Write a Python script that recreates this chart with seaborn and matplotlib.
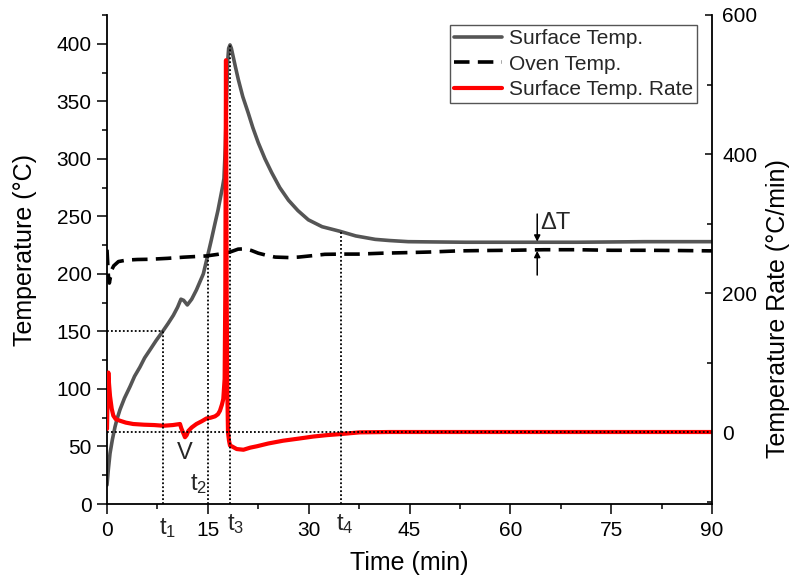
import matplotlib
matplotlib.use("Agg")
import matplotlib.pyplot as plt
from matplotlib.ticker import AutoMinorLocator, FixedLocator
import seaborn as sns

# ---- data -------------------------------------------------------------
# Surface temperature (°C) vs time (min)
surface_time = [0.0, 0.2, 0.45, 0.8, 1.19, 1.5, 1.93, 2.6, 3.42, 4.1, 4.9, 5.6,
                6.4, 7.3, 8.28, 9.1, 9.87, 10.5, 11.0, 11.4, 11.95, 12.6, 13.3,
                14.33, 14.98, 15.5, 16.07, 16.5, 16.9, 17.2, 17.4, 17.6, 17.8,
                17.95, 18.1, 18.3, 18.5, 18.8, 19.1, 19.53, 20.2, 21.0, 21.7,
                22.5, 23.5, 24.5, 25.7, 27.0, 28.4, 29.95, 32.0, 34.66, 37.0,
                39.9, 42.0, 44.8, 48.0, 53.3, 60.0, 70.0, 80.0, 90.0]
surface_temp = [16.5, 30, 44, 56, 67, 74, 82, 92, 102, 111, 119, 127,
                134, 142, 150, 157, 164, 171, 178, 177, 173, 178, 186,
                200, 216, 229, 244, 255, 267, 276, 283, 310, 355,
                385, 396, 399, 396, 388, 380, 369, 354, 340, 327,
                314, 300, 288, 275, 264, 255, 247, 241, 237, 233,
                230, 229, 228, 227.8, 227.5, 227.5, 227.5, 228, 228]

# Oven temperature (°C) vs time (min)
oven_time = [0.0, 0.1, 0.2, 0.35, 0.5, 0.7, 1.0, 1.7, 2.9, 4.5, 6.4, 9.0,
             11.35, 14.8, 16.5, 18.3, 19.5, 20.5, 21.5, 22.5, 23.5, 25.0,
             27.0, 28.5, 30.5, 32.4, 35.0, 37.4, 41.0, 44.8, 48.0, 52.3,
             56.0, 60.0, 65.0, 70.0, 75.0, 80.0, 85.0, 90.0]
oven_temp = [221, 210, 199, 192, 197, 203.5, 207, 210.7, 212, 212.5, 212.7,
             213.5, 214.5, 215.6, 217, 219, 221.5, 221.8, 220.3, 218, 216.5,
             214.6, 214.2, 214.6, 215.8, 217, 217.2, 217.2, 218, 218.5, 219,
             220, 220.3, 220.5, 221, 221, 220.5, 220.5, 220.3, 220]

# Surface heating rate (°C/min) vs time (min)
rate_time = [0.0, 0.1, 0.2, 0.3, 0.45, 0.7, 0.94, 1.3, 1.93, 2.8, 3.9, 5.5,
             7.0, 8.4, 9.8, 10.86, 11.05, 11.3, 11.6, 11.85, 12.1, 12.6, 13.3,
             14.1, 14.8, 15.4, 16.07, 16.5, 16.8, 17.1, 17.3, 17.5, 17.6,
             17.7, 17.8, 17.9, 18.0, 18.15, 18.3, 18.55, 19.3, 20.3, 21.3,
             22.3, 24.0, 26.2, 28.5, 30.7, 32.7, 34.7, 37.6, 42.0, 50.0,
             60.0, 70.0, 80.0, 90.0]
rate_value = [5, 60, 86, 70, 52, 34, 24, 19, 16.7, 14, 12, 11,
              10.5, 9.5, 10.5, 12, 6, 0, -7, -4, 2, 7, 12,
              16, 20, 21, 23, 26, 31, 40, 48, 77, 200,
              535, 200, 60, 0, -12, -19, -20, -24, -25, -22,
              -20, -16, -12, -9, -6, -4, -2.5, 0, 0.5, 0.5,
              0.5, 0.5, 0.5, 0.5]

# Characteristic times and the temperature where each guide line ends
mark_times = [8.28, 15.0, 18.3, 34.8]
mark_temps = [150, 216, 399, 237]
mark_labels = [r"$\mathrm{t}_1$", r"$\mathrm{t}_2$", r"$\mathrm{t}_3$", r"$\mathrm{t}_4$"]

x_ticks = [0, 15, 30, 45, 60, 75, 90]
temp_ticks = [0, 50, 100, 150, 200, 250, 300, 350, 400]
rate_ticks = [0, 200, 400, 600]

series_labels = ["Surface Temp.", "Oven Temp.", "Surface Temp. Rate"]

# ---- style ------------------------------------------------------------
sns.set_theme(style="ticks")
plt.rcParams["font.family"] = ["Liberation Sans", "DejaVu Sans"]
plt.rcParams["mathtext.fontset"] = "custom"
plt.rcParams["mathtext.rm"] = "Liberation Sans"
plt.rcParams["mathtext.it"] = "Liberation Sans:italic"
plt.rcParams["axes.linewidth"] = 1.3

fig = plt.figure(figsize=(7.95, 5.82), dpi=100)
ax = fig.add_axes([107 / 795, 1 - 504 / 582, 605 / 795, 489 / 582])
ax2 = ax.twinx()

grey = "#555555"
sns.lineplot(x=surface_time, y=surface_temp, ax=ax, color=grey, lw=2.6,
             errorbar=None, label=series_labels[0], legend=False)
sns.lineplot(x=oven_time, y=oven_temp, ax=ax, color="black", lw=2.6,
             linestyle=(0, (4.3, 2.3)), errorbar=None,
             label=series_labels[1], legend=False)
sns.lineplot(x=rate_time, y=rate_value, ax=ax2, color="#ff0000", lw=3.0,
             errorbar=None, label=series_labels[2], legend=False)

# dotted guide lines (drawn on the upper axes so they sit above the rate curve)
dot = dict(color="black", lw=1.3, linestyle=(0, (1, 1.2)), zorder=5)
for t, temp in zip(mark_times, mark_temps):
    ax2.plot([t, t], [0, temp], transform=ax.transData, **dot)
ax2.plot([0, mark_times[0]], [mark_temps[0], mark_temps[0]],
         transform=ax.transData, **dot)
ax2.plot([0, 90], [0, 0], **dot)

# ---- axes -------------------------------------------------------------
ax.set_xlim(0, 90)
ax.set_ylim(0, 425)
ax2.set_ylim(-103, 600)

ax.xaxis.set_major_locator(FixedLocator(x_ticks))
ax.xaxis.set_minor_locator(AutoMinorLocator(2))
ax.yaxis.set_major_locator(FixedLocator(temp_ticks))
ax.yaxis.set_minor_locator(AutoMinorLocator(2))
ax2.yaxis.set_major_locator(FixedLocator(rate_ticks))
ax2.yaxis.set_minor_locator(AutoMinorLocator(2))

ax.tick_params(axis="both", which="major", direction="out", length=7,
               width=1.1, labelsize=15, colors="black", pad=4)
ax.tick_params(axis="both", which="minor", direction="out", length=3.6,
               width=1.1, colors="black")
ax.tick_params(axis="x", which="major", pad=5)
ax2.tick_params(axis="y", which="major", direction="in", length=4.8,
                width=1.1, labelsize=15, colors="black", pad=7.5)
ax2.tick_params(axis="y", which="minor", direction="in", length=3.6,
                width=1.1, colors="black")

for a in (ax, ax2):
    a.spines["top"].set_visible(False)
    for s in a.spines.values():
        s.set_color("black")
ax.spines["right"].set_visible(False)
ax2.spines["left"].set_visible(False)
ax2.spines["bottom"].set_visible(False)

ax.set_xlabel("Time (min)", fontsize=18, color="black")
ax.set_ylabel("Temperature (°C)", fontsize=18, color="black")
ax2.set_ylabel("Temperature Rate (°C/min)", fontsize=18, color="black")
ax.xaxis.set_label_coords(0.5, (504 - 551) / 489)
ax.yaxis.set_label_coords((37 - 107) / 605, 0.52)
ax2.yaxis.set_label_coords((766 - 107) / 605, 0.40)

# ---- annotations ------------------------------------------------------
xax = ax.get_xaxis_transform()
ax.text(7.7, -0.024, mark_labels[0], transform=xax, fontsize=17,
        ha="left", va="top")
ax.text(12.3, 28, mark_labels[1], fontsize=17, ha="left", va="top")
ax.text(17.8, -0.016, mark_labels[2], transform=xax, fontsize=17,
        ha="left", va="top")
ax.text(34.1, -0.016, mark_labels[3], transform=xax, fontsize=17,
        ha="left", va="top")
ax.text(11.6, 54, "V", fontsize=17, ha="center", va="top")

# ΔT between surface and oven plateaus
surf_plateau = surface_temp[-1]
oven_plateau = oven_temp[-1]
arrow = dict(arrowstyle="-|>", color="black", lw=1.1, mutation_scale=9,
             shrinkA=0, shrinkB=0)
ax.annotate("", xy=(64, surf_plateau), xytext=(64, 252), arrowprops=arrow,
            zorder=6)
ax.annotate("", xy=(64, oven_plateau), xytext=(64, 199), arrowprops=arrow,
            zorder=6)
ax.text(64.4, 254, "ΔT", fontsize=17, ha="left", va="top")

# ---- legend -----------------------------------------------------------
handles = [ax.lines[0], ax.lines[1], ax2.lines[0]]
leg = ax2.legend(handles, series_labels, loc="upper right",
                 bbox_to_anchor=(0.975, 0.98), frameon=True, fancybox=False,
                 edgecolor=grey, framealpha=1, fontsize=15, handlelength=2.3,
                 handletextpad=0.3, labelspacing=0.32, borderpad=0.2,
                 borderaxespad=0)
leg.get_frame().set_linewidth(1.0)
leg.set_zorder(10)

fig.savefig("out.png", dpi=100)
